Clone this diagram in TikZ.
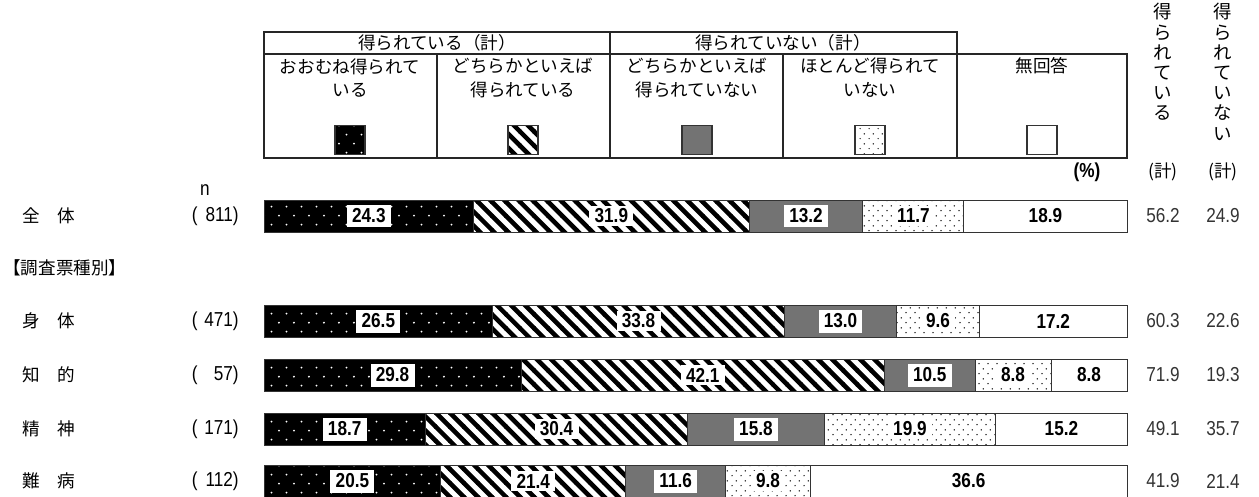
\documentclass[tikz,border=0pt]{standalone}
\usepackage{fontspec}
\setmainfont{Liberation Sans}
\newfontfamily\jp{Noto Sans CJK JP}
\newfontfamily\num[FakeStretch=0.85]{Liberation Sans}
\usetikzlibrary{positioning}
\usetikzlibrary{patterns}
\usetikzlibrary{calc}

% white dots on black, staggered
\pgfdeclarepatternformonly{sparsedots}{\pgfqpoint{0pt}{0pt}}{\pgfqpoint{8.5pt}{10.2pt}}{\pgfqpoint{8.5pt}{10.2pt}}{%
  \pgfpathcircle{\pgfqpoint{2pt}{2.5pt}}{0.6pt}
  \pgfpathcircle{\pgfqpoint{6.25pt}{7.6pt}}{0.6pt}
  \pgfusepath{fill}}
% black dots on white, closer
\pgfdeclarepatternformonly{finedots}{\pgfqpoint{0pt}{0pt}}{\pgfqpoint{5.2pt}{5.8pt}}{\pgfqpoint{5.2pt}{5.8pt}}{%
  \pgfpathcircle{\pgfqpoint{1.3pt}{1.45pt}}{0.45pt}
  \pgfpathcircle{\pgfqpoint{3.9pt}{4.35pt}}{0.45pt}
  \pgfusepath{fill}}
% wide diagonal stripes
\pgfdeclarepatternformonly{widehatch}{\pgfqpoint{-1pt}{-1pt}}{\pgfqpoint{9pt}{9pt}}{\pgfqpoint{8pt}{8pt}}{%
  \pgfsetlinewidth{2.6pt}
  \pgfpathmoveto{\pgfqpoint{-1pt}{9pt}}
  \pgfpathlineto{\pgfqpoint{9pt}{-1pt}}
  \pgfusepath{stroke}}

% #1 name, #2 y, #3-#7 shares, #8 #9 totals
\newcommand{\drawbar}[9]{%
  \pgfmathsetmacro{\barA}{264+8.63*#3}
  \pgfmathsetmacro{\barB}{\barA+8.63*#4}
  \pgfmathsetmacro{\barC}{\barB+8.63*#5}
  \pgfmathsetmacro{\barD}{\barC+8.63*#6}
  \path[segone] (264,#2-16) rectangle (\barA,#2+16);
  \path[segtwo] (\barA,#2-16) rectangle (\barB,#2+16);
  \path[segthree] (\barB,#2-16) rectangle (\barC,#2+16);
  \path[segfour] (\barC,#2-16) rectangle (\barD,#2+16);
  \path[segfive] (\barD,#2-16) rectangle (1127,#2+16);
  \node[boxlabel] (#1one) at ({(264+\barA)/2},#2) {#3};
  \node[backlabel] (#1two) at ({(\barA+\barB)/2},#2) {#4};
  \node[boxlabel] (#1three) at ({(\barB+\barC)/2},#2) {#5};
  \node[backlabel] (#1four) at ({(\barC+\barD)/2},#2) {#6};
  \node[bartext] (#1five) at ({(\barD+1127)/2},#2) {#7};
  \node[numtext] (#1tot) at (1163,#2) {#8};
  \node[numtext] (#1not) at (1223,#2) {#9};
}

\begin{document}
\begin{tikzpicture}[x=0.02cm,y=-0.02cm,
  jptext/.style={font=\jp\fontsize{10}{13.6}\selectfont,inner sep=0pt,align=center},
  numtext/.style={font=\num\fontsize{11.5}{13}\selectfont,inner sep=0pt,text=black!80},
  bartext/.style={font=\num\bfseries\fontsize{11.5}{13}\selectfont,inner sep=1.5pt},
  boxlabel/.style={bartext,fill=white,inner xsep=3pt,minimum height=0.46cm},
  backlabel/.style={bartext,fill=white,inner xsep=3pt},
  segedge/.style={draw=black!80,line width=0.5pt},
  segone/.style={segedge,preaction={fill=black},pattern=sparsedots,pattern color=white},
  segtwo/.style={segedge,pattern=widehatch,pattern color=black},
  segthree/.style={segedge,fill=black!55},
  segfour/.style={segedge,pattern=finedots,pattern color=black},
  segfive/.style={segedge,fill=white},
  keybox/.style={draw=black!80,line width=0.6pt,minimum width=0.6cm,minimum height=0.58cm,inner sep=0pt},
  tableline/.style={line width=0.8pt,draw=black!85}]
\useasboundingbox (0,0) rectangle (1259,497);

% legend table
\draw[tableline] (264,32) rectangle (957,158);
\draw[tableline] (957,54) rectangle (1127,158);
\draw[tableline] (264,54) -- (957,54);
\draw[tableline] (610,32) -- (610,158);
\draw[tableline] (437,54) -- (437,158);
\draw[tableline] (783,54) -- (783,158);

\node[jptext] (gettotal) at (437,43) {得られている（計）};
\node[jptext] (nototal) at (783,43) {得られていない（計）};
\node[jptext] (headone) at (350,78) {おおむね得られて\\いる};
\node[jptext] (headtwo) at (523,78) {どちらかといえば\\得られている};
\node[jptext] (headthree) at (697,78) {どちらかといえば\\得られていない};
\node[jptext] (headfour) at (870,78) {ほとんど得られて\\いない};
\node[jptext] (headfive) at (1042,66) {無回答};

\node[keybox,preaction={fill=black},pattern=sparsedots,pattern color=white] (keyone) at (350,140) {};
\node[keybox,pattern=widehatch,pattern color=black] (keytwo) at (523,140) {};
\node[keybox,fill=black!55] (keythree) at (697,140) {};
\node[keybox,pattern=finedots,pattern color=black] (keyfour) at (870,140) {};
\node[keybox,fill=white] (keyfive) at (1042,140) {};

% totals header
\node[jptext,anchor=north,font=\jp\fontsize{10.5}{11.5}\selectfont] (vget) at (1163,3) {得\\ら\\れ\\て\\い\\る};
\node[jptext,anchor=north,font=\jp\fontsize{10.5}{11.5}\selectfont] (vnot) at (1223,3) {得\\ら\\れ\\て\\い\\な\\い};
\node[jptext] (kget) at (1163,172) {(計)};
\node[jptext] (knot) at (1223,172) {(計)};
\node[bartext] (pct) at (1087,172) {(\%)};

% row labels
\node[numtext,text=black] (nhead) at (205,190) {n};
\node[jptext,anchor=west] (lall) at (22,216) {全　体};
\node[jptext,anchor=west] (lgroup) at (3,268) {【調査票種別】};
\node[jptext,anchor=west] (lbody) at (22,321) {身　体};
\node[jptext,anchor=west] (lintel) at (22,375) {知　的};
\node[jptext,anchor=west] (lmental) at (22,429) {精　神};
\node[jptext,anchor=west] (lrare) at (22,481) {難　病};
\node[numtext,text=black,anchor=east] (nall) at (239,216) {(\makebox[1.75em][r]{811})};
\node[numtext,text=black,anchor=east] (nbody) at (239,321) {(\makebox[1.75em][r]{471})};
\node[numtext,text=black,anchor=east] (nintel) at (239,375) {(\makebox[1.75em][r]{57})};
\node[numtext,text=black,anchor=east] (nmental) at (239,429) {(\makebox[1.75em][r]{171})};
\node[numtext,text=black,anchor=east] (nrare) at (239,481) {(\makebox[1.75em][r]{112})};

% bars
\drawbar{all}{216}{24.3}{31.9}{13.2}{11.7}{18.9}{56.2}{24.9}
\drawbar{body}{321}{26.5}{33.8}{13.0}{9.6}{17.2}{60.3}{22.6}
\drawbar{intel}{375}{29.8}{42.1}{10.5}{8.8}{8.8}{71.9}{19.3}
\drawbar{mental}{429}{18.7}{30.4}{15.8}{19.9}{15.2}{49.1}{35.7}
\drawbar{rare}{481}{20.5}{21.4}{11.6}{9.8}{36.6}{41.9}{21.4}
\end{tikzpicture}
\end{document}
